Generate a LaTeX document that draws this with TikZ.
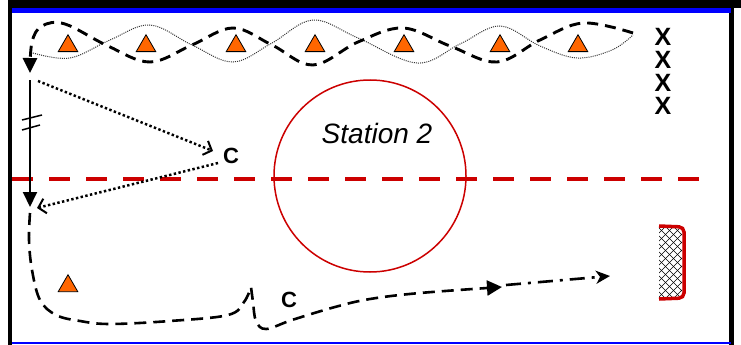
\documentclass[tikz,border=0pt]{standalone}
\usepackage{fontspec}
\setmainfont{Liberation Sans}
\usetikzlibrary{arrows.meta,shapes.geometric}
\definecolor{fieldred}{RGB}{204,0,0}
\definecolor{conecol}{RGB}{255,102,0}
\definecolor{rinkblue}{RGB}{0,0,255}
\begin{document}
\begin{tikzpicture}[x=1pt,y=-1pt,
  conemark/.style={regular polygon, regular polygon sides=3, draw=black, line width=0.8pt, fill=conecol, minimum size=22.6pt, inner sep=0pt},
  xmark/.style={font=\fontsize{25}{25}\selectfont\bfseries, inner sep=0pt},
  cmark/.style={font=\fontsize{22}{22}\selectfont\bfseries, inner sep=0pt},
  skate/.style={line width=2.9pt, dash pattern=on 11pt off 7pt},
  weave/.style={line width=1pt, black!80, dash pattern=on 1pt off 1.1pt},
  pass/.style={line width=2.5pt, dash pattern=on 2.4pt off 2.4pt, -{Straight Barb[length=7pt,width=15pt,line width=2pt]}},
  solidarrow/.style={line width=2pt, -{Triangle[length=15pt,width=14pt]}},
  shot/.style={line width=2.6pt, dash pattern=on 15pt off 7pt on 3pt off 7pt, -{Stealth[length=14pt,width=13pt,inset=4pt]}}
]
\useasboundingbox (0,0) rectangle (741,345);
\fill[white] (0,0) rectangle (741,345);
% frame
\fill[black] (8,0) rectangle (741,8);
\fill[black] (8,0) rectangle (12,345);
\fill[black] (729,0) rectangle (734,345);
\fill[rinkblue] (12,8) rectangle (731,13);
\fill[rinkblue] (12,342) rectangle (731,344);

% station circle and centre line
\draw[fieldred, line width=1.5pt] (370,176) circle[radius=96];
\draw[fieldred, line width=4.5pt, dash pattern=on 21pt off 16pt] (12,179) -- (705,179);
\node[font=\fontsize{28}{28}\selectfont\itshape, inner sep=0pt] (st) at (377,133) {Station 2};

% cones
\foreach \n/\x in {1/68,2/146,3/236,4/315,5/404,6/500,7/578}
  \node[conemark] (t\n) at (\x,46) {};
\node[conemark] (t8) at (68,286) {};

% X players
\foreach \n/\y in {1/37,2/60,3/83,4/106}
  \node[xmark] (x\n) at (663,\y) {X};

% coaches
\node[cmark] (c1) at (231,156) {C};
\node[cmark] (c2) at (289,300) {C};

% net
\begin{scope}
  \clip (659,228) rectangle (682,297);
  \foreach \d in {-72,-64,...,24} {
    \draw[line width=0.6pt] (659+\d,228) -- ++(75,75);
    \draw[line width=0.6pt] (659+\d,297) -- ++(75,-75);
  }
\end{scope}
\draw[fieldred, line width=3.5pt, rounded corners=5pt] (659,226) -- (684,227) -- (684,298) -- (659,299);

% weaving paths
\draw[weave] plot[smooth, tension=0.6] coordinates {(33,53) (70,58) (110,40) (150,25) (192,45) (233,62) (272,43) (313,20) (358,38) (417,63) (460,44) (500,26) (540,46) (577,58) (612,50) (633,35)};
\draw[skate, -{Triangle[length=15pt,width=14pt]}] plot[smooth, tension=0.6] coordinates {(633,33) (583,23) (540,40) (497,62) (450,46) (403,28) (358,42) (313,65) (272,45) (233,28) (192,45) (150,62) (108,46) (65,24) (42,26) (32,42) (30,73)};

% solid skate down with ticks
\coordinate (v1) at (30,80);
\coordinate (v2) at (30,207);
\draw[solidarrow] (v1) -- (v2);
\draw[line width=1.5pt] (22,120) -- (42,115);
\draw[line width=1.5pt] (22,130) -- (40,125);

% passes
\coordinate (p1s) at (38,81);
\coordinate (p1e) at (213,151);
\coordinate (p2s) at (218,163);
\coordinate (p2e) at (37,208);
\draw[pass] (p1s) -- (p1e);
\draw[pass] (p2s) -- (p2e);

% bottom skate path
\draw[skate, line width=2.6pt, dash pattern=on 12pt off 7pt, -{Triangle[length=15pt,width=15pt]}]
  plot[smooth, tension=0.6] coordinates {(30,213) (29,240) (32,270) (40,300) (56,315) (80,321) (110,324) (170,321) (228,315) (244,302) (251,287)}
  -- plot[smooth, tension=0.6] coordinates {(251,287) (253,302) (256,321) (266,329) (292,320) (335,307) (370,299) (420,293) (502,287)};
\coordinate (s1) at (506,285);
\coordinate (s2) at (610,276);
\draw[shot] (s1) -- (s2);
\end{tikzpicture}
\end{document}
